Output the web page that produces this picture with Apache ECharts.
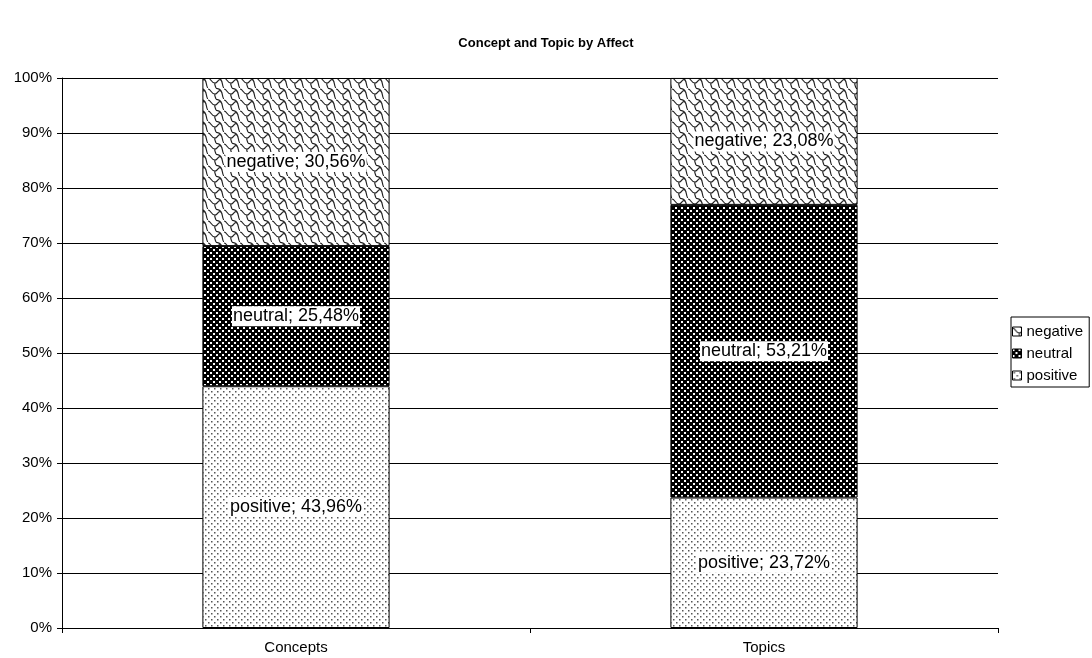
<!DOCTYPE html>
<html>
<head>
<meta charset="utf-8">
<script src="https://cdn.jsdelivr.net/npm/echarts@6/dist/echarts.min.js"></script>
<style>
  html, body { margin: 0; padding: 0; background: #fff; }
  #chart { width: 1092px; height: 658px; }
</style>
</head>
<body>
<div id="chart"></div>
<script>
// Chart data
const categories = ['Concepts', 'Topics'];
const positive = [43.96, 23.72];
const neutral = [25.48, 53.21];
const negative = [30.56, 23.08];
const yTicks = [0, 10, 20, 30, 40, 50, 60, 70, 80, 90, 100];

// Fill textures for the three segments
function makeTile(w, h, draw) {
  const c = document.createElement('canvas');
  c.width = w; c.height = h;
  draw(c.getContext('2d'));
  return c;
}
const dotTile = makeTile(6, 6, g => {
  g.fillStyle = '#fff'; g.fillRect(0, 0, 6, 6);
  g.fillStyle = '#555';
  g.fillRect(1, 1, 1.5, 1.5);
  g.fillRect(4, 4, 1.5, 1.5);
});
const darkTile = makeTile(6, 6, g => {
  g.fillStyle = '#000'; g.fillRect(0, 0, 6, 6);
  g.fillStyle = '#fff';
  g.fillRect(0, 0, 2, 2);
  g.fillRect(3, 3, 2, 2);
});
const scaleTile = makeTile(16, 11, g => {
  g.fillStyle = '#fff'; g.fillRect(0, 0, 16, 11);
  g.strokeStyle = '#222'; g.lineWidth = 1.2;
  g.beginPath();
  g.moveTo(0, 1);
  g.bezierCurveTo(3, 1, 3, 6, 7, 6);
  g.bezierCurveTo(10, 6, 10, 1, 13, 3);
  g.bezierCurveTo(15, 5, 14, 10, 16, 11);
  g.stroke();
  g.beginPath();
  g.moveTo(7, 6);
  g.bezierCurveTo(6, 8, 8, 10, 8, 11);
  g.stroke();
  g.beginPath();
  g.moveTo(8, 0);
  g.bezierCurveTo(9, 1, 12, 0, 13, 3);
  g.stroke();
});

const font = 'Liberation Sans, Arial, sans-serif';
const fmt = v => v.toFixed(2).replace('.', ',');

function seriesOf(name, values, tile) {
  return {
    name: name,
    type: 'bar',
    stack: 'total',
    barWidth: '40%',
    data: values,
    itemStyle: {
      color: { image: tile, repeat: 'repeat' },
      borderColor: '#000',
      borderWidth: 1
    },
    label: {
      show: true,
      position: 'inside',
      formatter: p => p.seriesName + '; ' + fmt(p.value) + '%',
      color: '#000',
      backgroundColor: '#fff',
      fontFamily: font,
      fontSize: 18,
      padding: [1, 1]
    },
    emphasis: { disabled: true }
  };
}

const chart = echarts.init(document.getElementById('chart'));
chart.setOption({
  animation: false,
  backgroundColor: '#fff',
  title: {
    text: 'Concept and Topic by Affect',
    left: 'center',
    top: 32,
    textStyle: { fontFamily: font, fontSize: 13, fontWeight: 'bold', color: '#000' }
  },
  legend: {
    data: ['negative', 'neutral', 'positive'],
    orient: 'vertical',
    left: 1011,
    top: 317,
    itemWidth: 9,
    itemHeight: 9,
    itemGap: 7,
    padding: [7, 6, 4, 1],
    borderColor: '#000',
    borderWidth: 1,
    textStyle: { fontFamily: font, fontSize: 15, color: '#000' },
    icon: 'rect',
    itemStyle: { borderColor: '#000', borderWidth: 1 }
  },
  grid: { left: 62, right: 94, top: 78, bottom: 30 },
  xAxis: {
    type: 'category',
    data: categories,
    axisLine: { lineStyle: { color: '#000' } },
    axisTick: { show: true, alignWithLabel: false, length: 5, lineStyle: { color: '#000' } },
    axisLabel: { fontFamily: font, fontSize: 15, color: '#000', margin: 12 }
  },
  yAxis: {
    type: 'value',
    min: yTicks[0],
    max: yTicks[yTicks.length - 1],
    interval: 10,
    axisLine: { show: true, lineStyle: { color: '#000' } },
    axisTick: { show: true, length: 5, lineStyle: { color: '#000' } },
    splitLine: { lineStyle: { color: '#000', width: 1 } },
    axisLabel: { fontFamily: font, fontSize: 15, color: '#000', margin: 10, formatter: v => v + '%' }
  },
  series: [
    seriesOf('positive', positive, dotTile),
    seriesOf('neutral', neutral, darkTile),
    seriesOf('negative', negative, scaleTile)
  ]
});
</script>
</body>
</html>
